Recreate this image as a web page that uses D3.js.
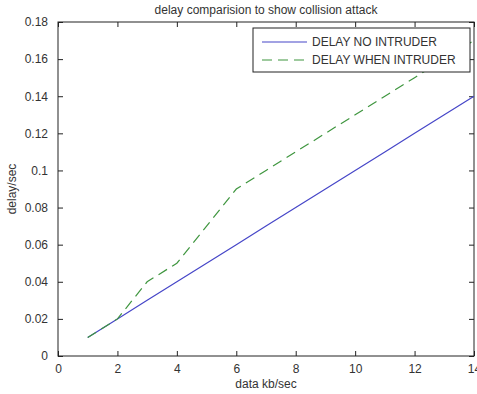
<!DOCTYPE html>
<html>
<head>
<meta charset="utf-8">
<script src="https://cdn.jsdelivr.net/npm/d3@7"></script>
<style>
  body { margin: 0; background: #fff; }
  svg { display: block; font-family: "Liberation Sans", Arial, sans-serif; }
</style>
</head>
<body>
<svg id="chart" width="477" height="394"></svg>
<script>
// data
const rates = [1, 2, 3, 4, 5, 6, 7, 8, 9, 10, 11, 12, 13, 14];
const delayNoIntruder = [0.01, 0.02, 0.03, 0.04, 0.05, 0.06, 0.07, 0.08, 0.09, 0.10, 0.11, 0.12, 0.13, 0.14];
const delayWithIntruder = [0.01, 0.02, 0.04, 0.05, 0.07, 0.09, 0.10, 0.11, 0.12, 0.13, 0.14, 0.15, 0.16, 0.17];
const xTicks = [0, 2, 4, 6, 8, 10, 12, 14];
const yTicks = [0, 0.02, 0.04, 0.06, 0.08, 0.1, 0.12, 0.14, 0.16, 0.18];
const seriesNames = ["DELAY NO INTRUDER", "DELAY WHEN INTRUDER"];

const svg = d3.select("#chart");
const plotLeft = 58, plotRight = 474, plotTop = 22, plotBottom = 356;

const x = d3.scaleLinear().domain([0, 14]).range([plotLeft, plotRight]);
const y = d3.scaleLinear().domain([0, 0.18]).range([plotBottom, plotTop]);

const textColor = "#333";

// ticks on all four sides, pointing in
const tickLen = 5;
const xAxisBottom = svg.append("g")
    .attr("transform", `translate(0,${plotBottom})`)
    .call(d3.axisBottom(x).tickValues(xTicks).tickSizeInner(-tickLen).tickSizeOuter(0).tickPadding(8).tickFormat(d3.format("d")));
const xAxisTop = svg.append("g")
    .attr("transform", `translate(0,${plotTop})`)
    .call(d3.axisTop(x).tickValues(xTicks).tickSizeInner(-tickLen).tickSizeOuter(0).tickFormat(""));
const yAxisLeft = svg.append("g")
    .attr("transform", `translate(${plotLeft},0)`)
    .call(d3.axisLeft(y).tickValues(yTicks).tickSizeInner(-tickLen).tickSizeOuter(0).tickPadding(10).tickFormat(d => d === 0 ? "0" : String(+d.toFixed(2))));
const yAxisRight = svg.append("g")
    .attr("transform", `translate(${plotRight},0)`)
    .call(d3.axisRight(y).tickValues(yTicks).tickSizeInner(-tickLen).tickSizeOuter(0).tickFormat(""));

[xAxisBottom, xAxisTop, yAxisLeft, yAxisRight].forEach(g => {
    g.select(".domain").remove();
    g.selectAll("line").attr("stroke", "#222");
    g.selectAll("text").attr("fill", textColor).attr("font-size", 12).attr("font-family", "Liberation Sans, Arial, sans-serif");
});

// box
svg.append("rect")
    .attr("x", plotLeft).attr("y", plotTop)
    .attr("width", plotRight - plotLeft).attr("height", plotBottom - plotTop)
    .attr("fill", "none").attr("stroke", "#222").attr("stroke-width", 1);

// lines
const line = d3.line().x((d, i) => x(rates[i])).y(d => y(d));

svg.append("path")
    .datum(delayNoIntruder)
    .attr("d", line)
    .attr("fill", "none")
    .attr("stroke", "#4646c8")
    .attr("stroke-width", 1.2);

svg.append("path")
    .datum(delayWithIntruder)
    .attr("d", line)
    .attr("fill", "none")
    .attr("stroke", "#3f963f")
    .attr("stroke-width", 1.2)
    .attr("stroke-dasharray", "10,6");

// title and axis labels
svg.append("text")
    .attr("x", (plotLeft + plotRight) / 2).attr("y", 14)
    .attr("text-anchor", "middle")
    .attr("font-size", 12).attr("fill", textColor)
    .text("delay comparision to show collision attack");

svg.append("text")
    .attr("x", (plotLeft + plotRight) / 2).attr("y", 388)
    .attr("text-anchor", "middle")
    .attr("font-size", 12).attr("fill", textColor)
    .text("data kb/sec");

svg.append("text")
    .attr("transform", `translate(16,${(plotTop + plotBottom) / 2}) rotate(-90)`)
    .attr("text-anchor", "middle")
    .attr("font-size", 12).attr("fill", textColor)
    .text("delay/sec");

// legend
const legend = svg.append("g").attr("transform", "translate(253,28)");
legend.append("rect")
    .attr("width", 217).attr("height", 44)
    .attr("fill", "#fff").attr("stroke", "#222");

const legendStyles = [
    {color: "#4646c8", dash: null},
    {color: "#3f963f", dash: "10,6"}
];

seriesNames.forEach((name, i) => {
    const rowY = 14 + i * 18;
    legend.append("line")
        .attr("x1", 9).attr("x2", 54)
        .attr("y1", rowY).attr("y2", rowY)
        .attr("stroke", legendStyles[i].color)
        .attr("stroke-width", 1.2)
        .attr("stroke-dasharray", legendStyles[i].dash);
    legend.append("text")
        .attr("x", 59).attr("y", rowY + 4)
        .attr("font-size", 12).attr("fill", textColor)
        .text(name);
});
</script>
</body>
</html>
